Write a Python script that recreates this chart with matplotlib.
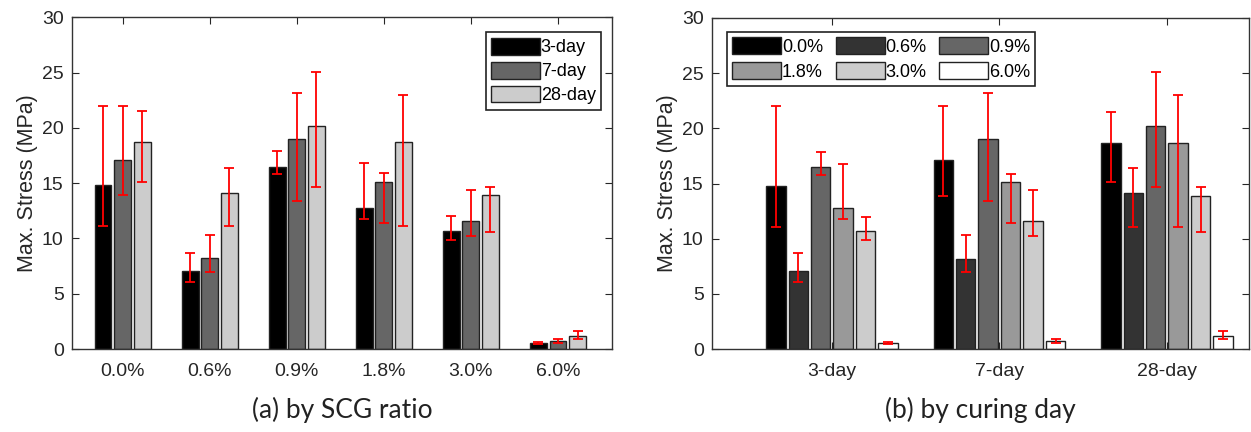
import numpy as np
import matplotlib.pyplot as plt

# SCG ratios and curing days
ratios = ['0.0%', '0.6%', '0.9%', '1.8%', '3.0%', '6.0%']
days = ['3-day', '7-day', '28-day']

# mean max. stress (MPa), one list per curing day
mean_3d = [14.8, 7.1, 16.5, 12.8, 10.7, 0.5]
mean_7d = [17.1, 8.2, 19.0, 15.1, 11.6, 0.7]
mean_28d = [18.7, 14.1, 20.2, 18.7, 13.9, 1.2]

# error bar ends (lower / upper)
low_3d = [11.1, 6.05, 15.8, 11.8, 9.9, 0.42]
low_7d = [13.9, 6.95, 13.4, 11.4, 10.2, 0.5]
low_28d = [15.1, 11.1, 14.7, 11.1, 10.6, 0.9]
high_3d = [22.0, 8.7, 17.9, 16.8, 12.0, 0.6]
high_7d = [22.0, 10.3, 23.2, 15.9, 14.4, 0.95]
high_28d = [21.5, 16.4, 25.1, 23.0, 14.7, 1.6]

means = np.array([mean_3d, mean_7d, mean_28d])
lows = np.array([low_3d, low_7d, low_28d])
highs = np.array([high_3d, high_7d, high_28d])

day_colors = ['#000000', '#666666', '#cccccc']
ratio_colors = ['#000000', '#333333', '#666666', '#999999', '#cccccc', '#ffffff']

plt.rcParams['font.family'] = ['Liberation Sans', 'DejaVu Sans']
txt = '#262626'

fig = plt.figure(figsize=(12.51, 4.32), dpi=100)
ax1 = fig.add_axes([72 / 1251, 83 / 432, 540 / 1251, 331.5 / 432])
ax2 = fig.add_axes([712 / 1251, 83 / 432, 537 / 1251, 331 / 432])


def style(ax):
    ax.set_ylim(0, 30)
    ax.set_yticks(np.arange(0, 31, 5))
    ax.tick_params(direction='in', top=True, right=True, length=5, width=0.8,
                   labelsize=14, colors=txt)
    ax.tick_params(axis='x', pad=10)
    ax.tick_params(axis='y', pad=6)
    for s in ax.spines.values():
        s.set_color('#333333')
        s.set_linewidth(1.0)
    ax.set_ylabel('Max. Stress (MPa)', fontsize=15.5, color=txt, labelpad=3)


err_kw = dict(ecolor='red', elinewidth=1.3, capsize=3.5, capthick=1.3)
leg_kw = dict(fontsize=13, handlelength=2.7, handleheight=1.05,
              handletextpad=0.05, borderpad=0.3, borderaxespad=0,
              fancybox=False, edgecolor='#222222', framealpha=1)

# (a) grouped by SCG ratio
x = np.arange(1, len(ratios) + 1)
pitch, w = 0.224, 0.195
for i, d in enumerate(days):
    xi = x + (i - 1) * pitch
    ax1.bar(xi, means[i], w, color=day_colors[i], edgecolor='#222222',
            linewidth=1.0, label=d, zorder=2)
    ax1.errorbar(xi, means[i], yerr=[means[i] - lows[i], highs[i] - means[i]],
                 fmt='none', zorder=3, **err_kw)
ax1.set_xticks(x)
ax1.set_xticklabels(ratios)
ax1.set_xlim(0.42, 6.62)
style(ax1)
leg1 = ax1.legend(loc='upper right', bbox_to_anchor=(0.98, 0.955),
                  labelspacing=0.3, **leg_kw)
leg1.get_frame().set_linewidth(1.2)

# (b) grouped by curing day
xd = np.arange(1, len(days) + 1)
pitch2, w2 = 0.134, 0.116
for j, r in enumerate(ratios):
    xj = xd + (j - 2.5) * pitch2
    ax2.bar(xj, means[:, j], w2, color=ratio_colors[j], edgecolor='#222222',
            linewidth=1.0, label=r, zorder=2)
    ax2.errorbar(xj, means[:, j],
                 yerr=[means[:, j] - lows[:, j], highs[:, j] - means[:, j]],
                 fmt='none', zorder=3, **err_kw)
ax2.set_xticks(xd)
ax2.set_xticklabels(days)
ax2.set_xlim(0.284, 3.49)
style(ax2)
# row-wise legend order: 0.0 0.6 0.9 / 1.8 3.0 6.0
h, l = ax2.get_legend_handles_labels()
order = [0, 3, 1, 4, 2, 5]
leg2 = ax2.legend([h[k] for k in order], [l[k] for k in order],
                  loc='upper left', bbox_to_anchor=(0.028, 0.958), ncol=3,
                  columnspacing=0.7, labelspacing=0.35, **leg_kw)
leg2.get_frame().set_linewidth(1.2)

fig.text((72 + 612) / 2 / 1251, 0.05, '(a) by SCG ratio', ha='center',
         va='center', fontsize=19, family='Lato', color='#222222')
fig.text((712 + 1249) / 2 / 1251, 0.05, '(b) by curing day', ha='center',
         va='center', fontsize=19, family='Lato', color='#222222')

fig.savefig('out.png', dpi=100)
